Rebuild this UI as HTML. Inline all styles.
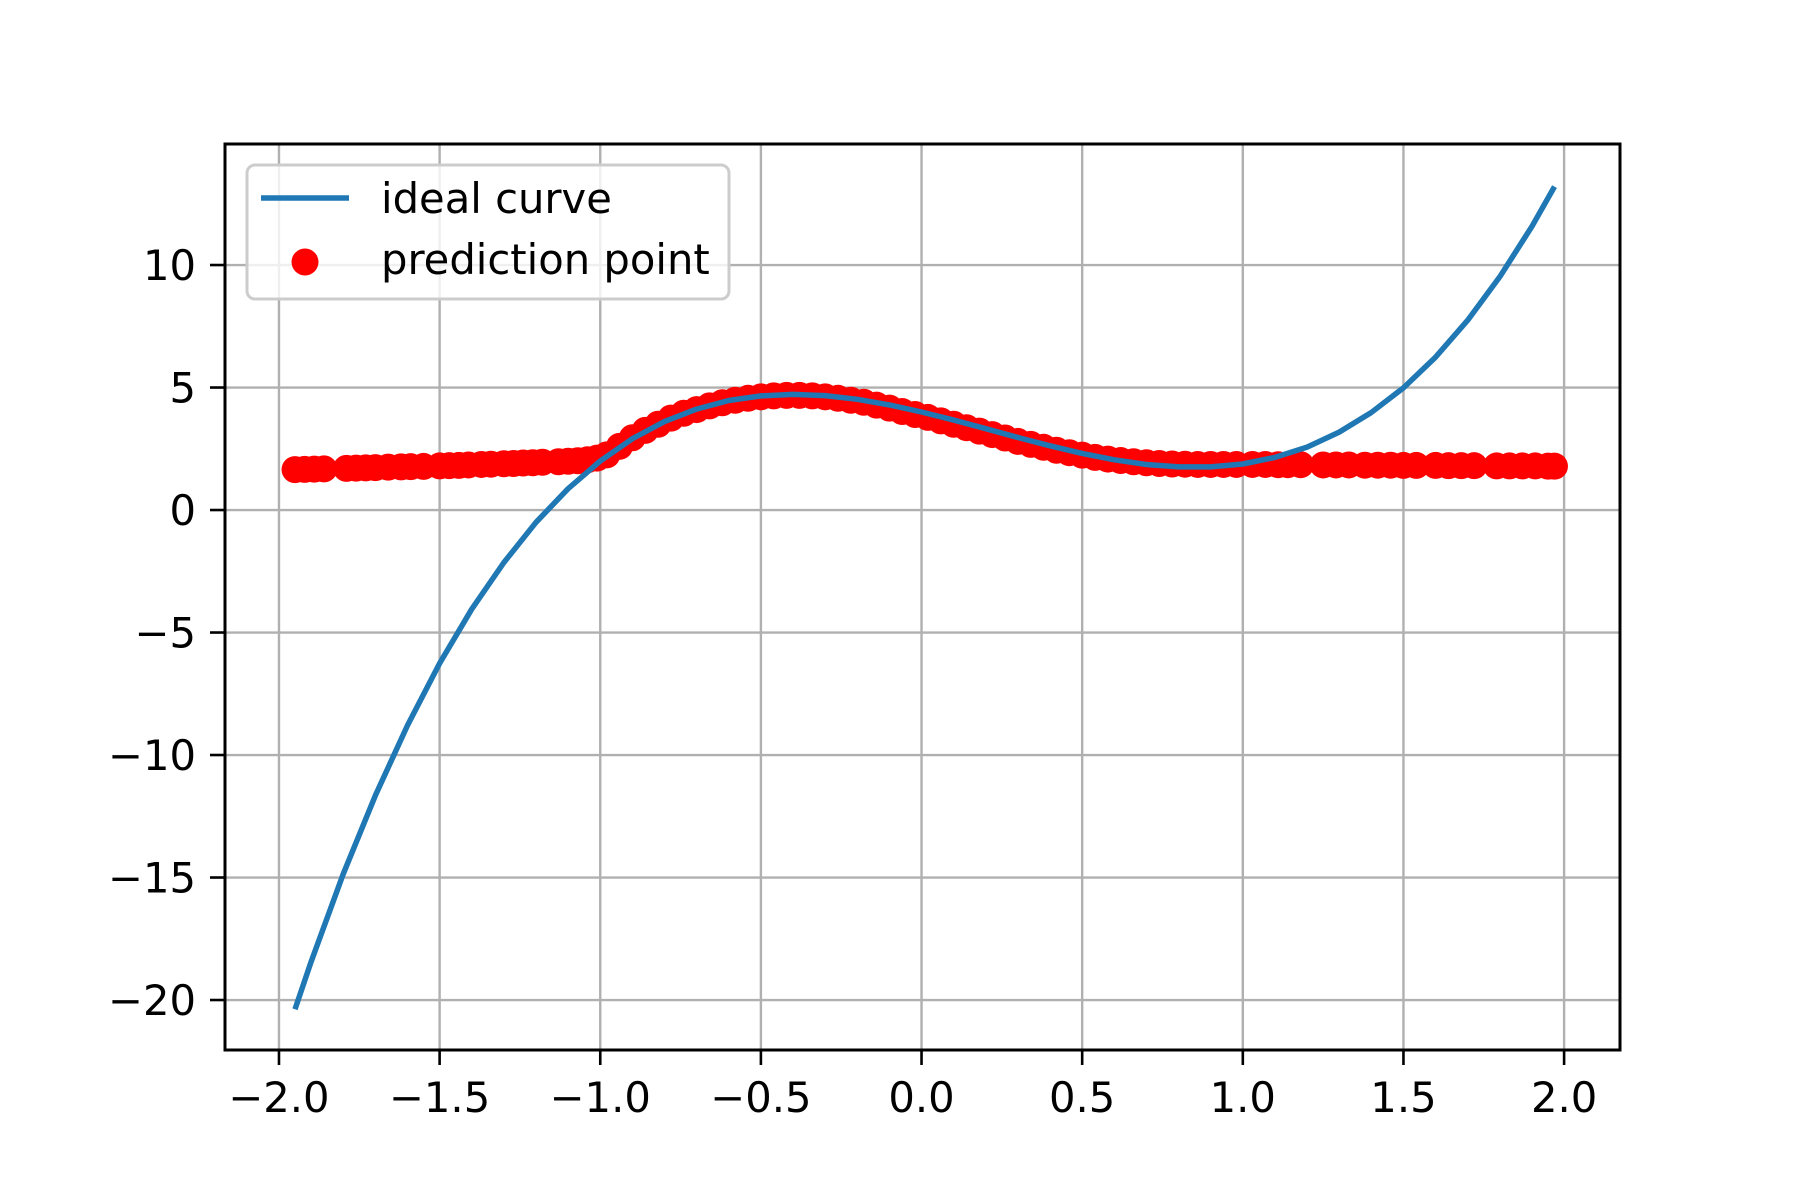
<!DOCTYPE html>
<html><head><meta charset="utf-8"><style>
html,body{margin:0;padding:0;background:#fff;}
svg{display:block;font-family:"DejaVu Sans","Liberation Sans",sans-serif;}
</style></head>
<body>
<svg id="chart" width="1800" height="1200" viewBox="0 0 1800 1200"></svg>
<script>
const xTicks=[-2.0,-1.5,-1.0,-0.5,0.0,0.5,1.0,1.5,2.0];
const xTickLabels=["\u22122.0","\u22121.5","\u22121.0","\u22120.5","0.0","0.5","1.0","1.5","2.0"];
const yTicks=[-20,-15,-10,-5,0,5,10];
const yTickLabels=["\u221220","\u221215","\u221210","\u22125","0","5","10"];
const curveX=[-1.95,-1.9,-1.8,-1.7,-1.6,-1.5,-1.4,-1.3,-1.2,-1.1,-1.0,-0.9,-0.8,-0.7,-0.6,-0.5,-0.4,-0.3,-0.2,-0.1,0,0.1,0.2,0.3,0.4,0.5,0.6,0.7,0.8,0.9,1.0,1.1,1.2,1.3,1.4,1.5,1.6,1.7,1.8,1.9,1.97];
const curveY=[-20.38,-18.44,-14.86,-11.65,-8.79,-6.26,-4.05,-2.14,-0.50,0.87,2.0,2.91,3.61,4.12,4.47,4.66,4.72,4.67,4.52,4.29,4.0,3.67,3.32,2.96,2.62,2.31,2.05,1.86,1.76,1.76,1.88,2.15,2.57,3.18,3.98,4.99,6.24,7.75,9.52,11.58,13.2];
const predX=[-1.95,-1.92,-1.89,-1.86,-1.79,-1.76,-1.73,-1.70,-1.66,-1.62,-1.59,-1.55,-1.50,-1.47,-1.44,-1.41,-1.37,-1.34,-1.30,-1.27,-1.24,-1.21,-1.18,-1.13,-1.10,-1.07,-1.04,-1.01,
-0.98,-0.94,-0.90,-0.86,-0.82,-0.78,-0.74,-0.70,-0.66,-0.62,-0.58,-0.54,-0.50,-0.46,-0.42,-0.38,-0.34,-0.30,-0.26,-0.22,-0.18,-0.14,-0.10,-0.06,-0.02,0.02,0.06,0.10,0.14,0.18,0.22,0.26,0.30,0.34,0.38,0.42,0.46,0.50,0.54,0.58,0.62,0.66,0.70,0.74,0.78,0.82,0.86,0.90,0.94,0.98,
1.03,1.07,1.11,1.14,1.18,1.25,1.29,1.33,1.38,1.42,1.46,1.50,1.54,1.60,1.64,1.68,1.72,1.79,1.83,1.87,1.91,1.95,1.97];
const predY=[1.65,1.66,1.67,1.68,1.70,1.71,1.72,1.73,1.75,1.76,1.77,1.78,1.80,1.81,1.82,1.84,1.86,1.87,1.89,1.90,1.92,1.93,1.95,1.97,1.99,2.01,2.05,2.12,
2.25,2.6,2.95,3.25,3.5,3.75,3.95,4.1,4.25,4.38,4.48,4.56,4.62,4.66,4.68,4.68,4.66,4.62,4.56,4.48,4.40,4.28,4.16,4.02,3.9,3.78,3.64,3.5,3.36,3.22,3.08,2.94,2.8,2.68,2.56,2.44,2.34,2.24,2.15,2.08,2.02,1.97,1.93,1.9,1.88,1.87,1.86,1.86,1.86,1.86,
1.86,1.86,1.85,1.85,1.85,1.84,1.84,1.84,1.83,1.83,1.83,1.82,1.82,1.82,1.81,1.81,1.81,1.80,1.80,1.80,1.80,1.79,1.79];

const NS="http://www.w3.org/2000/svg";
const svg=document.getElementById('chart');
const L=225,R=1620,T=144,B=1050;
const xmin=-2.168,xmax=2.174,ymin=-22.04,ymax=14.94;
const sx=v=>L+(v-xmin)/(xmax-xmin)*(R-L);
const sy=v=>B-(v-ymin)/(ymax-ymin)*(B-T);
function mk(tag,attrs,parent){const e=document.createElementNS(NS,tag);for(const k in attrs)e.setAttribute(k,attrs[k]);(parent||svg).appendChild(e);return e;}

const clip=mk('clipPath',{id:'clipA'});mk('rect',{x:L,y:T,width:R-L,height:B-T},clip);

const grid=mk('g',{});


xTicks.forEach((t,i)=>{
  const x=sx(t);
  const g=mk('line',{x1:x,x2:x,y1:T,y2:B,stroke:'#b0b0b0','stroke-width':2.4},grid);
  
  
  const tk=mk('line',{x1:x,x2:x,y1:B,y2:B+15,stroke:'#000','stroke-width':2.6});
  
  
  const tx=mk('text',{x:x,y:B+62,'font-size':41.7,'text-anchor':'middle',fill:'#000'});
  tx.textContent=xTickLabels[i];
  
  
});
yTicks.forEach((t,i)=>{
  const y=sy(t);
  const g=mk('line',{x1:L,x2:R,y1:y,y2:y,stroke:'#b0b0b0','stroke-width':2.4},grid);
  
  
  const tk=mk('line',{x1:L-15,x2:L,y1:y,y2:y,stroke:'#000','stroke-width':2.6});
  
  
  const tx=mk('text',{x:L-29,y:y+15,'font-size':41.7,'text-anchor':'end',fill:'#000'});
  tx.textContent=yTickLabels[i];
  
  
});

const pts=mk('g',{'clip-path':'url(#clipA)',fill:'#ff0000'});


predX.forEach((v,i)=>{
  const c=mk('circle',{cx:sx(v),cy:sy(predY[i]),r:13.5},pts);
  
  
});

const d=curveX.map((v,i)=>(i?'L':'M')+sx(v).toFixed(1)+' '+sy(curveY[i]).toFixed(1)).join(' ');
const line=mk('path',{d:d,fill:'none',stroke:'#1f77b4','stroke-width':5.5,'stroke-linejoin':'round','clip-path':'url(#clipA)'});



const frame=mk('rect',{x:L,y:T,width:R-L,height:B-T,fill:'none',stroke:'#000','stroke-width':3});



const leg=mk('g',{});


mk('rect',{x:247,y:165,width:482,height:134,rx:8,fill:'#fff','fill-opacity':0.8,stroke:'#cccccc','stroke-width':3},leg);
const l1=mk('line',{x1:261,x2:349,y1:198,y2:198,stroke:'#1f77b4','stroke-width':5.5},leg);


const t1=mk('text',{x:381,y:213,'font-size':41.7,fill:'#000'},leg);t1.textContent='ideal curve';


const c1=mk('circle',{cx:305,cy:262,r:13.5,fill:'#ff0000'},leg);


const t2=mk('text',{x:381,y:274,'font-size':41.7,fill:'#000'},leg);t2.textContent='prediction point';


</script>
</body></html>
